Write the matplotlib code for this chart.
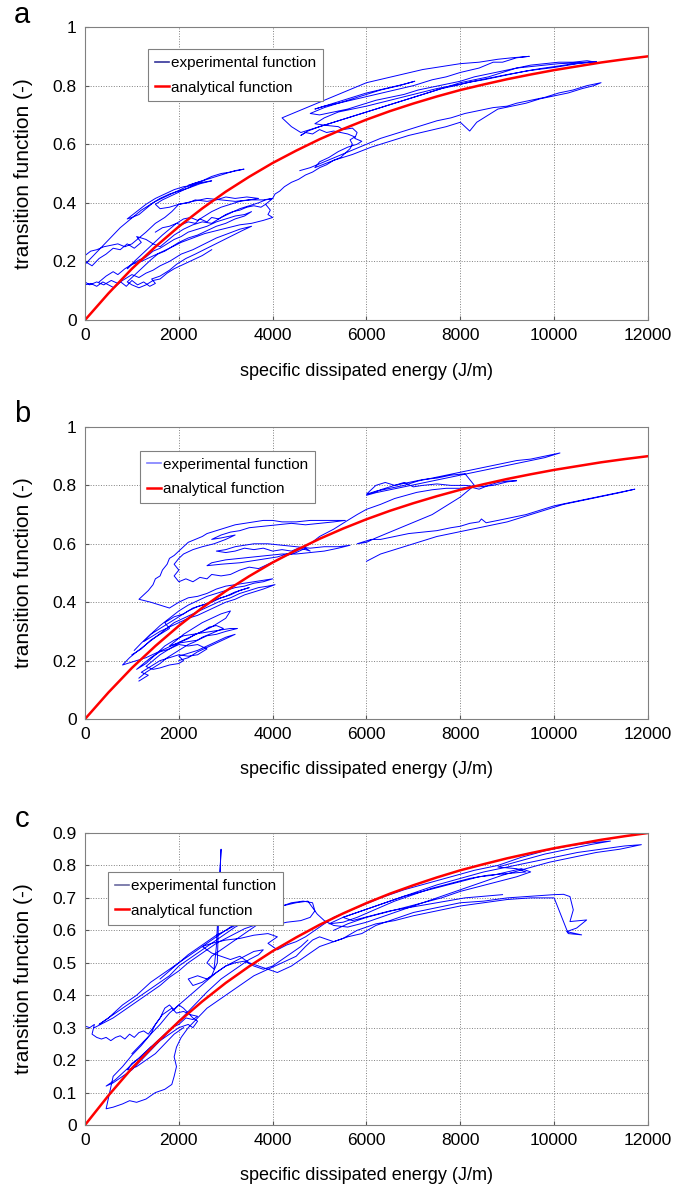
import matplotlib
matplotlib.use("Agg")
import matplotlib.pyplot as plt
from matplotlib.ticker import MultipleLocator, FuncFormatter

plt.rcParams['font.family'] = ['Liberation Sans Narrow', 'Liberation Sans', 'DejaVu Sans']

nan = float('nan')  # break between separate strands

# analytical transition function (same in all panels)
analytic_e = [0, 500, 1000, 1500, 2000, 2500, 3000, 3500, 4000, 4500, 5000, 5500, 6000,
              6500, 7000, 7500, 8000, 8500, 9000, 9500, 10000, 10500, 11000, 11500, 12000]
analytic_t = [0, 0.091, 0.175, 0.250, 0.319, 0.381, 0.438, 0.489, 0.536, 0.578, 0.617, 0.652, 0.684,
              0.713, 0.739, 0.763, 0.785, 0.804, 0.822, 0.838, 0.853, 0.866, 0.879, 0.890, 0.900]

# experimental function, panel a (energy J/m, transition -)
path_a = [
    (0, 0.12), (120, 0.125), (250, 0.115), (380, 0.13), (500, 0.12), (620, 0.11), (760, 0.13), (880, 0.115),
    (1000, 0.135), (1120, 0.12), (1250, 0.13), (1380, 0.115), (1500, 0.125), (1420, 0.14), (1600, 0.15),
    (1800, 0.17), (1950, 0.19), (2150, 0.21), (2350, 0.225), (2600, 0.245), (2850, 0.265), (3100, 0.285),
    (3350, 0.305), (3550, 0.32), (3300, 0.31), (3050, 0.295), (2800, 0.28), (2550, 0.26), (2300, 0.24),
    (2050, 0.225), (1800, 0.2), (1600, 0.185), (1450, 0.17), (1300, 0.16), (1150, 0.145), (1000, 0.155),
    (850, 0.14), (700, 0.125), (560, 0.135), (400, 0.12), (250, 0.13), (100, 0.12), (0, 0.13),
    (0, 0.2), (150, 0.185), (300, 0.21), (450, 0.225), (600, 0.245), (750, 0.24), (900, 0.26), (1050, 0.245),
    (1200, 0.265), (1100, 0.285), (1300, 0.275), (1450, 0.26), (1600, 0.25), (1750, 0.27), (1900, 0.29),
    (2100, 0.31), (2300, 0.325), (2500, 0.335), (2700, 0.33), (2900, 0.35), (3100, 0.365), (3300, 0.38),
    (3500, 0.39), (3700, 0.40), (3850, 0.41), (4000, 0.415), (3850, 0.395), (3950, 0.375), (3900, 0.36),
    (4000, 0.35), (3800, 0.34), (3550, 0.33), (3300, 0.325), (3050, 0.315), (2800, 0.305), (2550, 0.295),
    (2300, 0.28), (2050, 0.265), (1800, 0.245), (1600, 0.23), (1400, 0.215), (1200, 0.2), (1000, 0.19),
    (900, 0.175), (1050, 0.2), (1250, 0.23), (1450, 0.26), (1650, 0.29), (1800, 0.31), (1950, 0.33),
    (2100, 0.345), (2250, 0.35), (2400, 0.34), (2550, 0.355), (2700, 0.37), (2900, 0.385), (3100, 0.395),
    (3300, 0.405), (3500, 0.41), (3700, 0.415), (3450, 0.42), (3200, 0.415), (3000, 0.42), (2800, 0.41),
    (2600, 0.405), (2350, 0.41), (2200, 0.4), (2000, 0.395), (1850, 0.37), (1700, 0.35), (1500, 0.33),
    (1300, 0.3), (1150, 0.28), (1000, 0.26), (850, 0.25), (700, 0.26), (550, 0.255), (400, 0.25),
    (250, 0.24), (120, 0.235), (0, 0.22),
    (0, 0.19), (150, 0.215), (300, 0.24), (450, 0.265), (600, 0.29), (750, 0.315), (900, 0.335),
    (1050, 0.355), (1200, 0.375), (1350, 0.39), (1500, 0.405), (1700, 0.42), (1900, 0.435), (2100, 0.45),
    (2300, 0.465), (2500, 0.475), (2700, 0.49), (2900, 0.5), (3100, 0.505), (3250, 0.51), (3390, 0.515),
    (3200, 0.51), (3000, 0.5), (2800, 0.49), (2600, 0.48), (2400, 0.47), (2200, 0.46), (2500, 0.47),
    (2700, 0.475), (2450, 0.465), (2200, 0.45), (2000, 0.44), (1800, 0.43), (1600, 0.415), (1450, 0.40),
    (1300, 0.38), (1150, 0.36), (1000, 0.35), (900, 0.345), (1100, 0.37), (1300, 0.395), (1500, 0.415),
    (1700, 0.43), (1900, 0.445), (2100, 0.455), (2300, 0.46), (2450, 0.47), (2250, 0.455), (2050, 0.44),
    (1850, 0.425), (1650, 0.41), (1500, 0.395), (1600, 0.38), (1800, 0.385), (2000, 0.395), (2300, 0.405),
    (2600, 0.415), (2900, 0.41), (3200, 0.405), (3500, 0.41), (3800, 0.41), (4000, 0.415),
    (4050, 0.43), (4150, 0.44), (4250, 0.455), (4400, 0.47), (4550, 0.48), (4700, 0.495), (4850, 0.505),
    (5000, 0.52), (5150, 0.53), (5300, 0.545), (5450, 0.555), (5550, 0.57), (5650, 0.585), (5700, 0.60),
    (5650, 0.615), (5750, 0.625), (5600, 0.635), (5450, 0.64), (5300, 0.645), (5150, 0.64), (5000, 0.65),
    (4850, 0.635), (4700, 0.64), (4600, 0.63), (4750, 0.645), (5000, 0.66), (5300, 0.675), (5600, 0.69),
    (5900, 0.705), (6200, 0.72), (6500, 0.735), (6800, 0.75), (7100, 0.765), (7400, 0.78), (7700, 0.795),
    (8000, 0.81), (8300, 0.82), (8600, 0.83), (8900, 0.845), (9200, 0.86), (9500, 0.87), (9800, 0.875),
    (10100, 0.88), (10400, 0.88), (10700, 0.885), (10900, 0.88), (10600, 0.878), (10300, 0.872),
    (10000, 0.865), (9700, 0.858), (9400, 0.85), (9100, 0.84), (8800, 0.83), (8500, 0.82), (8200, 0.812),
    (7900, 0.80), (7600, 0.79), (7300, 0.775), (7000, 0.76), (6700, 0.745), (6400, 0.73), (6100, 0.715),
    (5800, 0.70), (5500, 0.685), (5200, 0.67), (4900, 0.655), (4600, 0.64), (4400, 0.66), (4200, 0.69),
    (4500, 0.71), (4800, 0.73), (5100, 0.75), (5400, 0.77), (5700, 0.79), (6000, 0.81), (6400, 0.825),
    (6800, 0.84), (7200, 0.855), (7600, 0.865), (8000, 0.875), (8400, 0.88), (8800, 0.89), (9100, 0.895),
    (9470, 0.90), (9200, 0.895), (8900, 0.88), (8700, 0.88), (8400, 0.86), (8000, 0.845), (7700, 0.83),
    (7400, 0.82), (7000, 0.80), (6600, 0.785), (6200, 0.77), (5800, 0.755), (5400, 0.74), (5100, 0.73),
    (4900, 0.72), (5200, 0.735), (5600, 0.755), (6000, 0.775), (6400, 0.79), (6800, 0.805), (7030, 0.815),
    (6700, 0.80), (6300, 0.785), (5900, 0.765), (5500, 0.745), (5100, 0.725), (4800, 0.705), (5000, 0.70),
    (5300, 0.71), (5600, 0.72), (5900, 0.735), (6200, 0.75), (6500, 0.76), (6800, 0.77), (7100, 0.785),
    (7400, 0.795), (7700, 0.805), (8000, 0.815), (8300, 0.83), (8600, 0.84), (8900, 0.85), (9200, 0.86),
    (9500, 0.865), (9800, 0.87), (10100, 0.875), (10400, 0.877), (10700, 0.88), (10900, 0.882),
    (10500, 0.875), (10000, 0.862), (9500, 0.852), (9000, 0.838), (8500, 0.822), (8000, 0.805),
    (7500, 0.79), (7000, 0.77), (6500, 0.75), (6000, 0.73), (5700, 0.72), (5400, 0.71), (5100, 0.69),
    (4900, 0.67), (5100, 0.665), (5400, 0.66), (5500, 0.65), (5700, 0.655), (5800, 0.64), (5750, 0.62),
    (5900, 0.61), (5800, 0.60), (5600, 0.59), (5400, 0.575), (5200, 0.555), (5000, 0.54), (4900, 0.52),
    (5300, 0.545), (5700, 0.565), (6100, 0.59), (6500, 0.61), (6900, 0.63), (7300, 0.645), (7700, 0.66),
    (8000, 0.675), (8200, 0.645), (8350, 0.675), (8600, 0.70), (8800, 0.72), (9100, 0.73), (9400, 0.74),
    (9700, 0.755), (10000, 0.765), (10300, 0.775), (10600, 0.79), (10850, 0.80), (11000, 0.81),
    (10700, 0.80), (10400, 0.785), (10100, 0.775), (9800, 0.76), (9500, 0.75), (9200, 0.74), (9000, 0.73),
    (8700, 0.725), (8400, 0.715), (8100, 0.705), (7800, 0.69), (7500, 0.68), (7200, 0.665), (6900, 0.65),
    (6600, 0.635), (6300, 0.62), (6000, 0.60), (5700, 0.58), (5400, 0.56), (5100, 0.54), (4800, 0.52),
    (4580, 0.51),
    (nan, nan), (300, 0.13), (450, 0.15), (600, 0.165), (700, 0.155), (850, 0.175), (1000, 0.19),
    (1150, 0.205), (1300, 0.215), (1450, 0.235), (1600, 0.245), (1750, 0.26), (1900, 0.275), (2050, 0.285),
    (2200, 0.3), (2400, 0.31), (2600, 0.32), (2800, 0.335), (3000, 0.345), (3200, 0.355), (3400, 0.36),
    (3550, 0.37), (3400, 0.355), (3200, 0.345), (3000, 0.33), (2800, 0.32), (2600, 0.305), (2400, 0.29),
    (2200, 0.28), (2000, 0.265), (1850, 0.25), (1700, 0.235), (1550, 0.225), (1400, 0.205), (1300, 0.19),
    (1200, 0.175), (1100, 0.16), (1000, 0.145), (900, 0.13), (1000, 0.12), (1150, 0.11), (1300, 0.12),
    (1450, 0.135), (1600, 0.14), (1750, 0.16), (1900, 0.175), (2100, 0.19), (2300, 0.205), (2500, 0.22),
    (2700, 0.24),
    (nan, nan), (1500, 0.30), (1650, 0.315), (1800, 0.32), (1950, 0.33), (2050, 0.325), (2200, 0.335),
    (2350, 0.33), (2450, 0.345), (2600, 0.335), (2700, 0.35), (2850, 0.345), (3000, 0.36), (3150, 0.37),
    (3300, 0.375), (3450, 0.385), (3600, 0.39), (3750, 0.385), (3850, 0.395),
]

# experimental function, panel b
path_b = [
    (1150, 0.13), (1250, 0.14), (1350, 0.15), (1200, 0.16), (1400, 0.18), (1600, 0.20), (1800, 0.21),
    (2000, 0.22), (2200, 0.215), (2400, 0.22), (2600, 0.24), (2400, 0.255), (2200, 0.25), (2000, 0.255),
    (1800, 0.24), (1600, 0.23), (1400, 0.21), (1250, 0.19), (1100, 0.17), (1300, 0.19), (1500, 0.22),
    (1700, 0.25), (1900, 0.27), (2100, 0.285), (2300, 0.29), (2500, 0.295), (2700, 0.30), (2900, 0.305),
    (3100, 0.31), (3250, 0.31), (3000, 0.30), (2800, 0.29), (2600, 0.285), (2400, 0.27), (2200, 0.265),
    (2000, 0.26), (1800, 0.25), (1950, 0.27), (2100, 0.29), (2300, 0.31), (2500, 0.33), (2700, 0.345),
    (2900, 0.36), (3100, 0.37), (3000, 0.345), (2850, 0.33), (2700, 0.315), (2500, 0.3), (2300, 0.285),
    (2100, 0.27), (1900, 0.255), (1700, 0.24), (1500, 0.225), (1300, 0.21), (1100, 0.20), (900, 0.19),
    (800, 0.185), (950, 0.21), (1100, 0.23), (1300, 0.255), (1500, 0.28), (1700, 0.305), (1900, 0.33),
    (2100, 0.345), (2300, 0.36), (2500, 0.375), (2700, 0.39), (2900, 0.405), (3100, 0.415), (3300, 0.43),
    (3500, 0.44), (3700, 0.45), (3900, 0.455), (4050, 0.46), (3800, 0.445), (3600, 0.435), (3400, 0.425),
    (3200, 0.41), (3000, 0.40), (2800, 0.385), (2600, 0.37), (2400, 0.355), (2200, 0.345), (2000, 0.33),
    (1800, 0.315), (1600, 0.30), (1400, 0.28), (1250, 0.265), (1400, 0.29), (1600, 0.32), (1800, 0.345),
    (2000, 0.37), (2200, 0.39), (2400, 0.405), (2600, 0.42), (2800, 0.43), (3000, 0.44), (3200, 0.45),
    (3400, 0.455), (3600, 0.465), (3800, 0.47), (4000, 0.48), (3800, 0.475), (3600, 0.47), (3400, 0.465),
    (3200, 0.46), (3000, 0.455), (2800, 0.445), (2600, 0.43), (2400, 0.42), (2200, 0.415), (2000, 0.40),
    (1800, 0.38), (1600, 0.39), (1400, 0.40), (1150, 0.41), (1250, 0.425), (1350, 0.44), (1450, 0.46),
    (1500, 0.48), (1600, 0.49), (1650, 0.51), (1750, 0.53), (1800, 0.55), (1900, 0.56), (2000, 0.575),
    (2100, 0.59), (2200, 0.605), (2350, 0.615), (2500, 0.625), (2600, 0.635), (2800, 0.645), (3000, 0.655),
    (3200, 0.665), (3400, 0.67), (3600, 0.675), (3800, 0.68), (4000, 0.68), (4200, 0.675), (4500, 0.675),
    (4800, 0.68), (5100, 0.68), (5300, 0.68), (5550, 0.68), (5300, 0.675), (5000, 0.67), (4700, 0.665),
    (4400, 0.67), (4100, 0.665), (3800, 0.66), (3500, 0.655), (3300, 0.645), (3100, 0.64), (2900, 0.63),
    (2700, 0.615), (2900, 0.62), (3200, 0.63), (3000, 0.615), (2750, 0.60), (2500, 0.59), (2300, 0.58),
    (2100, 0.565), (2000, 0.55), (1900, 0.53), (2000, 0.51), (1900, 0.49), (2000, 0.47), (2150, 0.48),
    (2300, 0.47), (2450, 0.485), (2600, 0.48), (2700, 0.495), (2900, 0.49), (3100, 0.495), (3300, 0.51),
    (3500, 0.52), (3700, 0.515), (3900, 0.53), (4100, 0.545), (4300, 0.56), (4500, 0.57), (4700, 0.585),
    (4800, 0.575), (4700, 0.58), (4550, 0.585), (4400, 0.575), (4200, 0.58), (4000, 0.575), (3800, 0.585),
    (3600, 0.58), (3400, 0.585), (3200, 0.575), (3000, 0.57), (2800, 0.575), (3000, 0.58), (3200, 0.59),
    (3400, 0.595), (3600, 0.60), (3900, 0.60), (4200, 0.595), (4500, 0.59), (4800, 0.585), (5100, 0.59),
    (5400, 0.59), (5650, 0.595), (5400, 0.585), (5100, 0.575), (4800, 0.57), (4500, 0.565), (4200, 0.565),
    (3900, 0.56), (3600, 0.555), (3300, 0.55), (3000, 0.545), (2700, 0.535), (2600, 0.525), (2900, 0.53),
    (3300, 0.535), (3700, 0.545), (4100, 0.555), (4500, 0.575), (4800, 0.60), (5000, 0.625), (5300, 0.65),
    (5577, 0.678), (5800, 0.70), (6000, 0.718), (6300, 0.735), (6600, 0.755), (7070, 0.776), (7400, 0.785),
    (7700, 0.79), (8000, 0.79), (8200, 0.795), (8400, 0.787), (8600, 0.80), (8800, 0.81), (9000, 0.815),
    (9200, 0.816), (9000, 0.812), (8700, 0.80), (8400, 0.795), (8100, 0.80), (7800, 0.80), (7500, 0.805),
    (7200, 0.80), (7000, 0.795), (6800, 0.81), (6600, 0.80), (6400, 0.81), (6200, 0.80), (6000, 0.77),
    (6200, 0.78), (6500, 0.79), (6800, 0.80), (7100, 0.815), (7400, 0.825), (7700, 0.835), (8000, 0.845),
    (8300, 0.855), (8600, 0.865), (8900, 0.875), (9200, 0.885), (9500, 0.89), (9800, 0.90), (10124, 0.911),
    (9800, 0.895), (9500, 0.885), (9200, 0.875), (8900, 0.865), (8600, 0.855), (8300, 0.845), (8000, 0.835),
    (7700, 0.825), (7400, 0.815), (7100, 0.805), (6800, 0.795), (6500, 0.785), (6200, 0.775), (6000, 0.766),
    (6300, 0.785), (6600, 0.80), (6900, 0.81), (7200, 0.82), (7500, 0.825), (7800, 0.835), (8100, 0.84),
    (8300, 0.80), (8000, 0.76), (7700, 0.73), (7400, 0.70), (7100, 0.68), (6800, 0.66), (6500, 0.64),
    (6200, 0.62), (6000, 0.605), (5800, 0.60), (6100, 0.615), (6300, 0.615), (6600, 0.625), (6900, 0.635),
    (7200, 0.64), (7500, 0.645), (7800, 0.655), (8000, 0.66), (8200, 0.67), (8400, 0.675), (8450, 0.685),
    (8550, 0.672), (8800, 0.68), (9100, 0.69), (9400, 0.70), (9700, 0.715), (10000, 0.73), (10300, 0.74),
    (10600, 0.75), (10900, 0.76), (11200, 0.77), (11500, 0.78), (11720, 0.787), (11400, 0.775),
    (11100, 0.765), (10800, 0.755), (10500, 0.745), (10200, 0.735), (9900, 0.72), (9600, 0.705),
    (9300, 0.69), (9000, 0.675), (8700, 0.665), (8400, 0.655), (8100, 0.645), (7800, 0.635), (7500, 0.625),
    (7200, 0.61), (6900, 0.595), (6600, 0.58), (6300, 0.565), (6000, 0.54),
    (nan, nan), (1150, 0.14), (1300, 0.16), (1450, 0.175), (1600, 0.19), (1750, 0.21), (1900, 0.225),
    (2050, 0.24), (2200, 0.255), (2350, 0.265), (2500, 0.28), (2650, 0.29), (2800, 0.30), (2950, 0.31),
    (2800, 0.32), (2650, 0.315), (2500, 0.30), (2350, 0.29), (2200, 0.275), (2050, 0.265), (1900, 0.25),
    (1750, 0.235), (1600, 0.22), (1450, 0.20), (1300, 0.18), (1450, 0.17), (1600, 0.175), (1800, 0.185),
    (2000, 0.19), (2100, 0.20), (2000, 0.215), (2200, 0.225), (2400, 0.235), (2600, 0.25), (2800, 0.265),
    (3000, 0.28), (3200, 0.29), (3000, 0.275), (2800, 0.26), (2600, 0.245), (2400, 0.23), (2200, 0.21),
    (2000, 0.20),
    (nan, nan), (1000, 0.22), (1200, 0.24), (1400, 0.27), (1600, 0.29), (1800, 0.31), (1700, 0.33),
    (1900, 0.35), (2100, 0.36), (2300, 0.38), (2500, 0.39), (2700, 0.40), (2900, 0.415), (3100, 0.425),
    (3300, 0.44), (3500, 0.45), (3200, 0.435), (3000, 0.42), (2800, 0.41), (2600, 0.395), (2400, 0.385),
    (2200, 0.37), (2000, 0.35), (1800, 0.33), (1600, 0.31), (1400, 0.29), (1200, 0.26), (1050, 0.235),
]

# experimental function, panel c
path_c = [
    (0, 0.305), (100, 0.30), (200, 0.31), (150, 0.28), (250, 0.27), (350, 0.265), (450, 0.27), (550, 0.26),
    (650, 0.27), (750, 0.275), (850, 0.265), (950, 0.28), (1050, 0.27), (1150, 0.285), (1250, 0.29),
    (1350, 0.28), (1450, 0.30), (1550, 0.32), (1650, 0.34), (1750, 0.35), (1850, 0.36), (1950, 0.345),
    (2100, 0.35), (2250, 0.34), (2400, 0.335), (2300, 0.325), (2150, 0.33), (2000, 0.31), (1850, 0.30),
    (1700, 0.28), (1550, 0.26), (1400, 0.24), (1250, 0.22), (1100, 0.20), (950, 0.18), (800, 0.16),
    (650, 0.14), (450, 0.12), (600, 0.13), (800, 0.15), (1000, 0.17), (1200, 0.20), (1400, 0.23),
    (1600, 0.26), (1800, 0.29), (2000, 0.32), (2200, 0.35), (2400, 0.38), (2600, 0.41), (2750, 0.43),
    (2900, 0.45), (3100, 0.47), (3300, 0.49), (3500, 0.51), (3700, 0.525), (3800, 0.54), (3600, 0.535),
    (3400, 0.52), (3200, 0.505), (3000, 0.49), (2800, 0.47), (2600, 0.445), (2400, 0.42), (2200, 0.395),
    (2000, 0.37), (1800, 0.345), (1600, 0.31), (1400, 0.28), (1200, 0.245), (1000, 0.215), (800, 0.18),
    (600, 0.15), (450, 0.05), (600, 0.055), (800, 0.065), (950, 0.075), (1100, 0.07), (1300, 0.08),
    (1500, 0.10), (1700, 0.11), (1850, 0.125), (1900, 0.15), (1950, 0.18), (1900, 0.21), (1950, 0.24),
    (2050, 0.27), (2200, 0.30), (2400, 0.33), (2600, 0.36), (2800, 0.38), (3000, 0.40), (3300, 0.43),
    (3600, 0.46), (3900, 0.48), (4200, 0.50), (4500, 0.52), (4700, 0.55), (4850, 0.57), (5000, 0.58),
    (5300, 0.565), (5600, 0.58), (5900, 0.59), (6200, 0.615), (6600, 0.635), (7000, 0.655), (7500, 0.67),
    (8000, 0.685), (8500, 0.69), (9000, 0.70), (9500, 0.705), (10000, 0.71), (10200, 0.711),
    (10337, 0.704), (10408, 0.663), (10337, 0.627), (10693, 0.632), (10479, 0.607), (10266, 0.596),
    (10586, 0.586), (10300, 0.59), (10000, 0.70), (9500, 0.70), (9000, 0.695), (8500, 0.685),
    (8000, 0.675), (7500, 0.66), (7000, 0.645), (6600, 0.63), (6200, 0.62), (5800, 0.60), (5500, 0.575),
    (5200, 0.56), (5000, 0.55), (4800, 0.53), (4600, 0.51), (4400, 0.49), (4100, 0.47), (3900, 0.48),
    (3700, 0.49), (3500, 0.50), (3300, 0.52), (3100, 0.51), (2900, 0.52), (2700, 0.53), (2500, 0.55),
    (2700, 0.56), (3000, 0.57), (3300, 0.575), (3600, 0.585), (3900, 0.59), (4100, 0.58), (3900, 0.56),
    (4100, 0.54), (4300, 0.555), (4500, 0.565), (4700, 0.58), (4900, 0.60), (5100, 0.62), (5300, 0.64),
    (5800, 0.67), (6300, 0.70), (6800, 0.725), (7300, 0.745), (7800, 0.765), (8300, 0.785), (8800, 0.80),
    (9300, 0.825), (9800, 0.845), (10300, 0.86), (10800, 0.87), (11200, 0.875), (10800, 0.865),
    (10300, 0.85), (9800, 0.835), (9300, 0.815), (8800, 0.795), (9200, 0.79), (9400, 0.78), (9000, 0.775),
    (8600, 0.77), (8200, 0.76), (7800, 0.745), (7400, 0.73), (7000, 0.71), (6600, 0.69), (6200, 0.665),
    (5800, 0.64), (5500, 0.625), (5200, 0.62), (5500, 0.64), (6000, 0.665), (6500, 0.69), (7000, 0.715),
    (7500, 0.74), (8000, 0.76), (8500, 0.78), (9000, 0.795), (9500, 0.81), (10000, 0.825), (10500, 0.84),
    (11000, 0.85), (11500, 0.86), (11859, 0.864), (11400, 0.85), (10900, 0.84), (10400, 0.825),
    (9900, 0.81), (9400, 0.79), (8900, 0.77), (8400, 0.745), (7900, 0.72), (7400, 0.695), (6900, 0.67),
    (6400, 0.645), (6000, 0.625), (5600, 0.61), (5300, 0.615), (5100, 0.63), (4950, 0.65), (4850, 0.67),
    (4750, 0.69), (4500, 0.685), (4200, 0.675), (4000, 0.665), (3800, 0.655), (3600, 0.64), (3400, 0.625),
    (3200, 0.61), (3000, 0.59), (2800, 0.57), (2600, 0.55), (2400, 0.53), (2200, 0.51), (2000, 0.49),
    (1800, 0.46), (1600, 0.44), (1400, 0.42), (1200, 0.40), (1000, 0.38), (800, 0.36), (600, 0.34),
    (400, 0.32), (300, 0.31), (500, 0.33), (800, 0.37), (1100, 0.40), (1400, 0.44), (1700, 0.47),
    (2000, 0.50), (2300, 0.53), (2600, 0.56), (2900, 0.59), (3200, 0.62), (3500, 0.64), (3800, 0.655),
    (4100, 0.67), (4400, 0.685), (4650, 0.69), (4850, 0.685), (4900, 0.66), (4800, 0.64), (4600, 0.63),
    (4300, 0.625), (4000, 0.615), (3700, 0.62), (3500, 0.60), (3300, 0.58), (3100, 0.56), (2900, 0.54),
    (2700, 0.52), (2600, 0.50), (2750, 0.48), (2800, 0.55), (2850, 0.70), (2900, 0.85), (2870, 0.75),
    (2820, 0.50), (2700, 0.46), (2500, 0.44), (2300, 0.43), (2200, 0.45), (2400, 0.46), (2600, 0.45),
    (2800, 0.47), (3000, 0.49), (3200, 0.50), (3400, 0.505), (3600, 0.49), (3800, 0.48), (4000, 0.49),
    (4200, 0.51), (4400, 0.53), (4600, 0.55), (4750, 0.57),
    (nan, nan), (200, 0.30), (400, 0.315), (600, 0.33), (800, 0.35), (1000, 0.37), (1200, 0.39),
    (1400, 0.41), (1600, 0.43), (1800, 0.455), (2000, 0.475), (2200, 0.50), (2400, 0.52), (2600, 0.54),
    (2800, 0.56), (3000, 0.575), (3200, 0.59), (3400, 0.605), (3600, 0.615), (3800, 0.625), (4000, 0.635),
    (4200, 0.64), (4000, 0.65), (3800, 0.645), (3600, 0.635), (3400, 0.63), (3200, 0.615), (3000, 0.60),
    (2800, 0.585), (2600, 0.565), (2400, 0.545), (2200, 0.525), (2000, 0.50), (1800, 0.475), (1600, 0.45),
    (nan, nan), (1000, 0.22), (1200, 0.25), (1400, 0.28), (1500, 0.31), (1600, 0.33), (1700, 0.36),
    (1800, 0.37), (1900, 0.355), (2000, 0.37), (2100, 0.36), (2200, 0.345), (2300, 0.33), (2400, 0.32),
    (2300, 0.30), (2200, 0.31), (2000, 0.30), (1800, 0.28), (1600, 0.26), (1400, 0.24), (1200, 0.21),
    (1000, 0.19), (900, 0.17), (1100, 0.18), (1300, 0.20), (1500, 0.22), (1700, 0.25), (1900, 0.28),
    (2100, 0.30),
    (nan, nan), (5300, 0.60), (5600, 0.62), (6000, 0.64), (6400, 0.655), (6800, 0.67), (7200, 0.685),
    (7600, 0.70), (8000, 0.72), (8400, 0.735), (8800, 0.75), (9200, 0.765), (9500, 0.78), (9300, 0.79),
    (9000, 0.78), (8700, 0.77), (8400, 0.765), (8000, 0.75), (7600, 0.735), (7200, 0.72), (6800, 0.705),
    (6400, 0.685), (6000, 0.665), (5700, 0.65), (5500, 0.64), (5700, 0.63), (6100, 0.645), (6500, 0.66),
    (6900, 0.67), (7300, 0.68), (7700, 0.69), (8100, 0.70), (8500, 0.705), (8900, 0.71),
]

panels = [
    ('a', path_a, 1.0, 0.2, (0.112, 0.925), '#33339a'),
    ('b', path_b, 1.0, 0.2, (0.098, 0.918), '#7f7fff'),
    ('c', path_c, 0.9, 0.1, (0.041, 0.866), '#6a6aa0'),
]
boxes = [[0.1232, 0.7313, 0.8159, 0.2460],
         [0.1232, 0.3963, 0.8159, 0.2452],
         [0.1232, 0.0554, 0.8159, 0.2452]]
letter_y = [0.987, 0.652, 0.312]

fig = plt.figure(figsize=(6.9, 11.91), dpi=100)
for (letter, path, ytop, ystep, legpos, legcol), box, ly in zip(panels, boxes, letter_y):
    ax = fig.add_axes(box)
    ex = [p[0] for p in path]
    ey = [p[1] for p in path]
    ax.plot(ex, ey, color='#0000ff', lw=0.7, label='experimental function')
    ax.plot(analytic_e, analytic_t, color='#ff0000', lw=1.8, label='analytical function')
    ax.set_xlim(0, 12000)
    ax.set_ylim(0, ytop)
    ax.xaxis.set_major_locator(MultipleLocator(2000))
    ax.yaxis.set_major_locator(MultipleLocator(ystep))
    ax.yaxis.set_major_formatter(FuncFormatter(lambda v, p: f'{v:g}'))
    ax.grid(True, linestyle=':', color='#808080', lw=0.7)
    ax.tick_params(direction='in', length=3, labelsize=12.5, colors='#555555', labelcolor='black', pad=6)
    for s in ax.spines.values():
        s.set_color('#808080')
    ax.set_ylabel('transition function (-)', fontsize=15)
    ax.yaxis.set_label_coords(-0.092, 0.5)
    ax.set_xlabel('specific dissipated energy (J/m)', fontsize=13)
    ax.xaxis.set_label_coords(0.5, -0.145)
    leg = ax.legend(loc='upper left', bbox_to_anchor=legpos, fontsize=11, handlelength=0.9,
                    handletextpad=0.15, borderpad=0.45, labelspacing=0.7, borderaxespad=0,
                    fancybox=False, framealpha=1)
    leg.get_frame().set_edgecolor('#808080')
    leg.get_frame().set_linewidth(0.8)
    leg.legend_handles[0].set_color(legcol)
    leg.legend_handles[0].set_linewidth(1.2)
    fig.text(0.032, ly, letter, fontsize=21, ha='center', va='center')

fig.savefig('out.png', dpi=100)
